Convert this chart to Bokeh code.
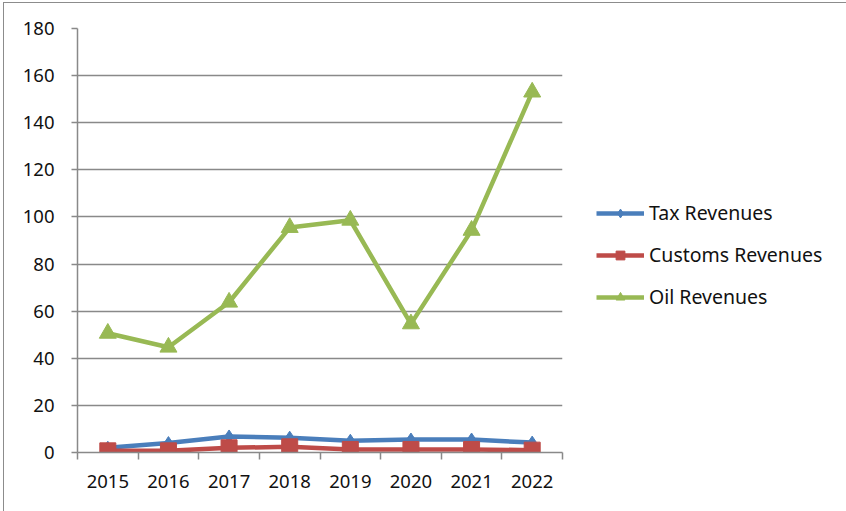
from bokeh.plotting import figure
from bokeh.models import Range1d, FixedTicker, Legend, LegendItem, ColumnDataSource
from bokeh.embed import file_html
from bokeh.resources import INLINE

years = ["2015", "2016", "2017", "2018", "2019", "2020", "2021", "2022"]
tax_revenues = [2.0, 4.0, 6.8, 6.3, 5.0, 5.5, 5.5, 4.2]
customs_revenues = [0.7, 0.7, 2.0, 2.4, 1.3, 1.3, 1.3, 1.0]
oil_revenues = [50.6, 44.7, 63.8, 95.5, 98.6, 54.6, 94.3, 153.0]
y_ticks = [0, 20, 40, 60, 80, 100, 120, 140, 160, 180]

FONT = "Noto Sans"
GRID = "#898989"
TEXT = "#111111"

xs = list(range(1, len(years) + 1))
src = ColumnDataSource(dict(x=xs, tax=tax_revenues, customs=customs_revenues, oil=oil_revenues))

p = figure(output_backend="svg", toolbar_location=None,
           frame_width=485, frame_height=424,
           min_border_left=73, min_border_right=285,
           min_border_top=25, min_border_bottom=60,
           x_range=Range1d(0.5, len(years) + 0.5), y_range=Range1d(0, 180))
p.styles = {"margin-left": "3px", "margin-top": "2px",
            "border-left": "1px solid #8c8c8c", "border-top": "1px solid #8c8c8c",
            "border-bottom": "1px solid #8c8c8c"}
p.outline_line_color = None
p.background_fill_color = "white"
p.border_fill_color = "white"

# x axis: labels at category centres, tick marks between categories
p.xaxis.ticker = FixedTicker(ticks=xs, minor_ticks=[x - 0.5 for x in xs] + [xs[-1] + 0.5])
p.xaxis.major_label_overrides = {x: y for x, y in zip(xs, years)}
p.xaxis.major_tick_out = 0
p.xaxis.major_tick_in = 0
p.xaxis.minor_tick_out = 7
p.xaxis.minor_tick_in = 0
p.xaxis.minor_tick_line_color = GRID
p.xaxis.minor_tick_line_width = 1.5
p.xaxis.major_label_standoff = 15
p.xgrid.visible = False

p.yaxis.ticker = FixedTicker(ticks=y_ticks)
p.yaxis.major_tick_out = 6
p.yaxis.major_tick_in = 0
p.yaxis.minor_tick_line_color = None
p.yaxis.major_tick_line_color = GRID
p.yaxis.major_tick_line_width = 1.5
p.yaxis.major_label_standoff = 17
p.ygrid.ticker = FixedTicker(ticks=y_ticks)
p.ygrid.grid_line_color = GRID
p.ygrid.grid_line_width = 1.5

for ax in (p.xaxis, p.yaxis):
    ax.axis_line_color = GRID
    ax.axis_line_width = 1.5
    ax.major_label_text_font = FONT
    ax.major_label_text_font_size = "18.5px"
    ax.major_label_text_color = TEXT

blue, red, green = "#4a7ebb", "#be4b48", "#98b954"

l1 = p.line("x", "tax", source=src, line_color=blue, line_width=4.5)
m1 = p.scatter("x", "tax", source=src, marker="diamond", size=13, fill_color=blue, line_color=blue)
l2 = p.line("x", "customs", source=src, line_color=red, line_width=4.5)
m2 = p.scatter("x", "customs", source=src, marker="square", size=16, fill_color=red, line_color=red)
l3 = p.line("x", "oil", source=src, line_color=green, line_width=4.5)
m3 = p.scatter("x", "oil", source=src, marker="triangle", size=17, fill_color=green, line_color=green)

legend = Legend(items=[
    LegendItem(label="Tax Revenues", renderers=[l1, m1]),
    LegendItem(label="Customs Revenues", renderers=[l2, m2]),
    LegendItem(label="Oil Revenues", renderers=[l3, m3]),
], location=(34, 142))
legend.background_fill_alpha = 0
legend.border_line_color = None
legend.padding = 0
legend.margin = 0
legend.glyph_width = 48
legend.glyph_height = 22
legend.label_height = 22
legend.spacing = 15
legend.label_standoff = 5
legend.label_text_font = FONT
legend.label_text_font_size = "19.5px"
legend.label_text_color = TEXT
p.add_layout(legend, "right")

open("out.html", "w").write(file_html(p, INLINE))
